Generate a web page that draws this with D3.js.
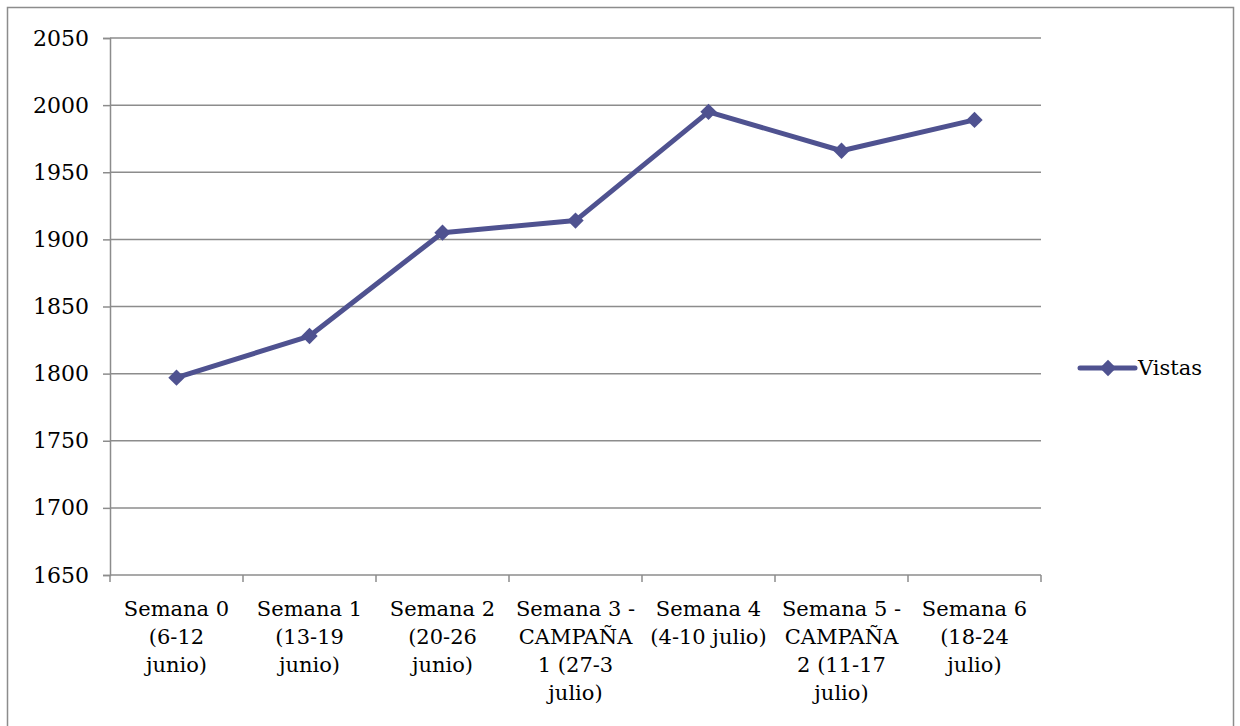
<!DOCTYPE html>
<html>
<head>
<meta charset="utf-8">
<script src="https://cdn.jsdelivr.net/npm/d3@7"></script>
<style>
  body { margin: 0; background: #fff; }
  text { font-family: "DejaVu Serif", Georgia, serif; fill: #000; }
</style>
</head>
<body>
<div id="chart"></div>
<script>
// categories (line breaks as in the original chart)
var categories = [
  "Semana 0\n(6-12\njunio)",
  "Semana 1\n(13-19\njunio)",
  "Semana 2\n(20-26\njunio)",
  "Semana 3 -\nCAMPAÑA\n1 (27-3\njulio)",
  "Semana 4\n(4-10 julio)",
  "Semana 5 -\nCAMPAÑA\n2 (11-17\njulio)",
  "Semana 6\n(18-24\njulio)"
];
var vistas = [1797, 1828, 1905, 1914, 1995, 1966, 1989];
var yTicks = [1650, 1700, 1750, 1800, 1850, 1900, 1950, 2000, 2050];
var seriesName = "Vistas";

var width = 1240, height = 726;
var plotLeft = 110, plotRight = 1041, plotTop = 38, plotBottom = 575;
var lineColor = "#4f5290";
var gridColor = "#8c8c8c";

var svg = d3.select("#chart").append("svg")
  .attr("width", width)
  .attr("height", height);

// outer frame
svg.append("rect")
  .attr("x", 7.5).attr("y", 7.5)
  .attr("width", 1226).attr("height", 730)
  .attr("fill", "none")
  .attr("stroke", gridColor)
  .attr("stroke-width", 1.5);

var x = d3.scaleBand()
  .domain(d3.range(categories.length))
  .range([plotLeft, plotRight])
  .padding(0);

var y = d3.scaleLinear()
  .domain([1650, 2050])
  .range([plotBottom, plotTop]);

// gridlines
svg.append("g")
  .selectAll("line")
  .data(yTicks.slice(1))
  .enter().append("line")
  .attr("x1", plotLeft).attr("x2", plotRight)
  .attr("y1", function(d) { return y(d); })
  .attr("y2", function(d) { return y(d); })
  .attr("stroke", gridColor)
  .attr("stroke-width", 1.5);

// y axis
var yAxis = svg.append("g")
  .attr("transform", "translate(" + plotLeft + ",0)")
  .call(d3.axisLeft(y).tickValues(yTicks).tickSize(7).tickPadding(14).tickFormat(d3.format("d")));
yAxis.select(".domain").attr("stroke", gridColor).attr("stroke-width", 1.5);
yAxis.selectAll(".tick line").attr("stroke", gridColor).attr("stroke-width", 1.5);
yAxis.selectAll(".tick text")
  .style("font-family", "DejaVu Serif, serif")
  .style("font-size", "22px")
  .attr("fill", "#000");

// x axis line and ticks
var xAxis = svg.append("g")
  .attr("transform", "translate(0," + plotBottom + ")");
xAxis.append("line")
  .attr("x1", plotLeft).attr("x2", plotRight)
  .attr("stroke", gridColor).attr("stroke-width", 1.5);
xAxis.selectAll(".xt")
  .data(d3.range(categories.length + 1))
  .enter().append("line")
  .attr("class", "xt")
  .attr("x1", function(i) { return plotLeft + i * x.bandwidth(); })
  .attr("x2", function(i) { return plotLeft + i * x.bandwidth(); })
  .attr("y1", 0).attr("y2", 7)
  .attr("stroke", gridColor).attr("stroke-width", 1.5);

// x labels
var labels = svg.append("g").selectAll("text")
  .data(categories)
  .enter().append("text")
  .attr("text-anchor", "middle")
  .style("font-size", "21px")
  .attr("transform", function(d, i) {
    return "translate(" + (x(i) + x.bandwidth() / 2) + "," + (plotBottom + 41) + ")";
  });
labels.selectAll("tspan")
  .data(function(d) { return d.split("\n"); })
  .enter().append("tspan")
  .attr("x", 0)
  .attr("dy", function(d, i) { return i === 0 ? 0 : 28; })
  .text(function(d) { return d; });

// line
var line = d3.line()
  .x(function(d, i) { return x(i) + x.bandwidth() / 2; })
  .y(function(d) { return y(d); });

svg.append("path")
  .datum(vistas)
  .attr("d", line)
  .attr("fill", "none")
  .attr("stroke", lineColor)
  .attr("stroke-width", 5)
  .attr("stroke-linejoin", "round");

var diamond = d3.symbol().type(d3.symbolDiamond2).size(170);

svg.append("g").selectAll("path")
  .data(vistas)
  .enter().append("path")
  .attr("d", diamond)
  .attr("transform", function(d, i) {
    return "translate(" + (x(i) + x.bandwidth() / 2) + "," + y(d) + ")";
  })
  .attr("fill", lineColor);

// legend
var legend = svg.append("g").attr("transform", "translate(1080,368)");
legend.append("line")
  .attr("x1", 0).attr("x2", 55)
  .attr("stroke", lineColor).attr("stroke-width", 5)
  .attr("stroke-linecap", "round");
legend.append("path")
  .attr("d", diamond)
  .attr("transform", "translate(28,0)")
  .attr("fill", lineColor);
legend.append("text")
  .attr("x", 58).attr("y", 7)
  .style("font-size", "21px")
  .text(seriesName);
</script>
</body>
</html>
